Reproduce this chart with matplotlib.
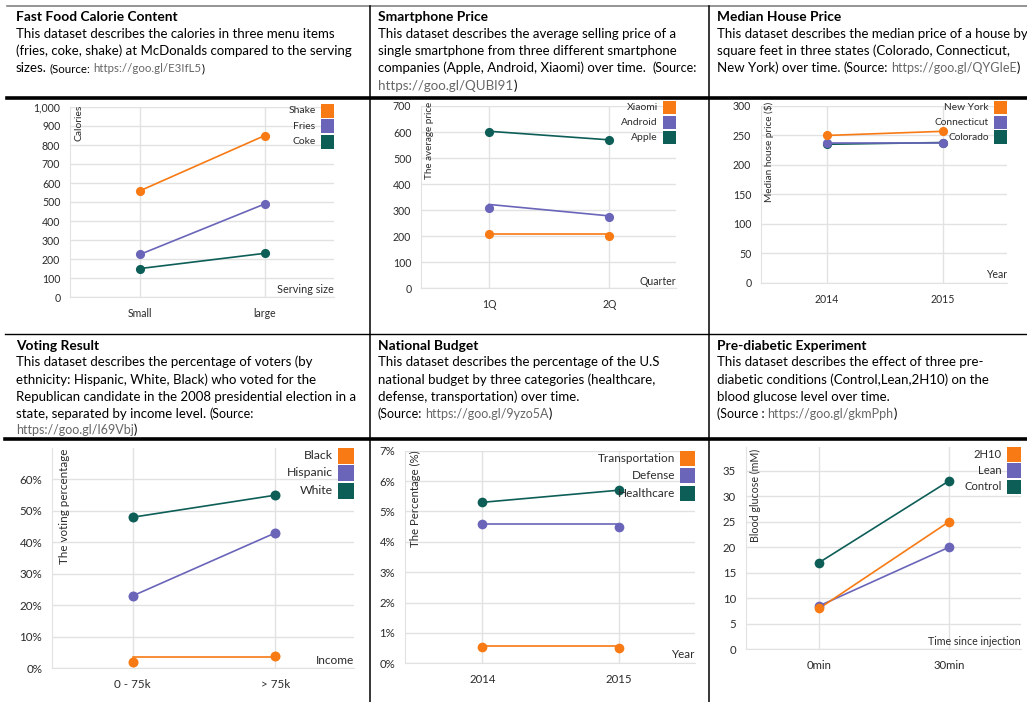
import matplotlib
matplotlib.use("Agg")
import matplotlib.pyplot as plt
from matplotlib.lines import Line2D
from matplotlib.patches import Rectangle
from matplotlib.ticker import FuncFormatter

plt.rcParams['font.family'] = ['Lato', 'DejaVu Sans']

ORANGE = "#F77A14"
PURPLE = "#6A65B9"
TEAL = "#0E5E58"
GRID = "#E2E2E2"
INK = "#2B2B2B"
URL = "#666666"

# ---- data -------------------------------------------------------------
food_sizes = ["Small", "large"]
shake_cal = [560, 850]
fries_cal = [225, 490]
coke_cal = [150, 230]

quarters = ["1Q", "2Q"]
xiaomi_price = [210, 200]
xiaomi_line = [210, 210]
android_price = [310, 275]
android_line = [322, 278]
apple_price = [600, 570]
apple_line = [603, 570]

house_years = ["2014", "2015"]
newyork_price = [250, 257]
connecticut_price = [238, 238]
colorado_price = [235, 238]

income = ["0 - 75k", "> 75k"]
black_vote = [2, 4]
black_line = [3.7, 3.7]
hispanic_vote = [23, 43]
white_vote = [48, 55]

budget_years = ["2014", "2015"]
transport_pct = [0.55, 0.5]
transport_line = [0.58, 0.58]
defense_pct = [4.6, 4.5]
defense_line = [4.6, 4.6]
health_pct = [5.3, 5.7]

inject_time = ["0min", "30min"]
h2h10_glucose = [8, 25]
lean_glucose = [8.5, 20]
control_glucose = [17, 33]

# ---- figure -----------------------------------------------------------
W, H = 1027, 702
fig = plt.figure(figsize=(W / 100, H / 100), dpi=100)
renderer = fig.canvas.get_renderer()


def fx(x):
    return x / W


def fy(y):
    return 1 - y / H


def hline(y, x0, x1, lw, color="black"):
    fig.add_artist(Line2D([fx(x0), fx(x1)], [fy(y), fy(y)], lw=lw, color=color))


def vline(x, y0, y1, lw, color="black"):
    fig.add_artist(Line2D([fx(x), fx(x)], [fy(y0), fy(y1)], lw=lw, color=color))


def text_run(x, y, parts):
    """Write pieces of text one after another on a shared baseline."""
    for s, size, color, weight, gap in parts:
        x += gap
        t = fig.text(fx(x), fy(y), s, fontsize=size, color=color,
                     fontweight=weight, va="baseline", ha="left")
        x += t.get_window_extent(renderer).width


TITLE = 9.9
BODY = 9.55
SMALL = 9.0


def title(s):
    return (s, TITLE, "black", "bold", 0)


def body(s, size=BODY, gap=0):
    return (s, size, "black", "normal", gap)


def small(s, size=SMALL, color="black", gap=0):
    return (s, size, color, "normal", gap)


def line_panel(box, cats, series, ylim, yticks, fmt, ylabel, xlabel, legend,
               tick_size, label_size, ms=6.6):
    x0, y0, x1, y1 = box
    ax = fig.add_axes([fx(x0), fy(y1), (x1 - x0) / W, (y1 - y0) / H])
    xs = list(range(len(cats)))
    for name, color, marks, line in series:
        ax.plot(xs, line, color=color, lw=1.2, zorder=3)
    for name, color, marks, line in series:
        ax.plot(xs, marks, "o", color=color, ms=ms, mew=0, zorder=4)
    ax.set_xlim(-0.565, 1.555)
    ax.set_ylim(*ylim)
    ax.set_xticks(xs, cats)
    ax.set_yticks(yticks)
    ax.yaxis.set_major_formatter(FuncFormatter(fmt))
    ax.grid(True, color=GRID, lw=1)
    ax.set_axisbelow(True)
    for s in ["top", "right"]:
        ax.spines[s].set_visible(False)
    for s in ["left", "bottom"]:
        ax.spines[s].set_color(GRID)
    ax.tick_params(length=0, labelsize=tick_size, colors=INK, pad=7)
    ax.tick_params(axis="x", pad=8)

    # y title sits inside the plot, rotated, hanging from the top
    ylx, yly, ylsize = ylabel[1], ylabel[2], ylabel[3]
    fig.text(fx(ylx), fy(yly), ylabel[0], rotation=90, ha="center", va="top",
             fontsize=ylsize, color=INK)
    # x title at the lower right corner
    fig.text(fx(x1), fy(xlabel[1]), xlabel[0], ha="right", va="center",
             fontsize=label_size, color=INK)

    # legend: labels with square swatches on the right edge
    top, size, step, fsize = legend
    for i, (name, color, marks, line) in enumerate(reversed(series)):
        ty = top + i * step
        fig.add_artist(Rectangle((fx(x1 - size), fy(ty + size)), size / W, size / H,
                                 color=color, lw=0))
        fig.text(fx(x1 - size - 5), fy(ty + size / 2), name, ha="right",
                 va="center", fontsize=fsize, color=INK)
    return ax


def plain(v, pos):
    return f"{v:,.0f}"


def pct(v, pos):
    return f"{v:.0f}%"


# ---- text cells -------------------------------------------------------
text_run(16, 21, [title("Fast Food Calorie Content")])
text_run(16, 38, [body("This dataset describes the calories in three menu items")])
text_run(16, 55, [body("(fries, coke, shake) at McDonalds compared to the serving")])
text_run(16, 72, [body("sizes."), small("(Source:", 8.3, gap=3),
                  small("https://goo.gl/E3IfL5", 8.3, URL, gap=3), small(")", 8.3)])

text_run(378, 21, [title("Smartphone Price")])
text_run(378, 38, [body("This dataset describes the average selling price of a")])
text_run(378, 55, [body("single smartphone from three different smartphone")])
text_run(378, 72, [body("companies (Apple, Android, Xiaomi) over time."),
                   small("(Source:", gap=7)])
text_run(378, 90, [small("https://goo.gl/QUBl91", 9.6, URL), body(")")])

text_run(717, 21, [title("Median House Price")])
text_run(717, 38, [body("This dataset describes the median price of a house by")])
text_run(717, 55, [body("square feet in three states (Colorado, Connecticut,")])
text_run(717, 72, [body("New York) over time."), small("(Source:", gap=3),
                   small("https://goo.gl/QYGIeE", color=URL, gap=3), small(")")])

text_run(16, 349.5, [title("Voting Result")])
text_run(16, 366.5, [body("This dataset describes the percentage of voters (by")])
text_run(16, 384, [body("ethnicity: Hispanic, White, Black) who voted for the")])
text_run(16, 401, [body("Republican candidate in the 2008 presidential election in a")])
text_run(16, 418, [body("state, separated by income level."), small("(Source:", gap=3)])
text_run(16, 434.5, [small("https://goo.gl/I69Vbj", color=URL), small(")")])

text_run(378, 349.5, [title("National Budget")])
text_run(378, 366.5, [body("This dataset describes the percentage of the U.S")])
text_run(378, 384, [body("national budget by three categories (healthcare,")])
text_run(378, 401, [body("defense, transportation) over time.")])
text_run(378, 418, [small("(Source:"), small("https://goo.gl/9yzo5A", color=URL, gap=3),
                    small(")")])

text_run(717, 349.5, [title("Pre-diabetic Experiment")])
text_run(717, 366.5, [body("This dataset describes the effect of three pre-")])
text_run(717, 384, [body("diabetic conditions (Control,Lean,2H10) on the")])
text_run(717, 401, [body("blood glucose level over time.")])
text_run(717, 418, [small("(Source :"), small("https://goo.gl/gkmPph", color=URL, gap=3),
                    small(")")])

# ---- charts -----------------------------------------------------------
line_panel((70, 107, 334, 297), food_sizes,
           [("Coke", TEAL, coke_cal, coke_cal),
            ("Fries", PURPLE, fries_cal, fries_cal),
            ("Shake", ORANGE, shake_cal, shake_cal)],
           (0, 1000), range(0, 1001, 100), plain,
           ("Calories", 79.5, 105, 7.4), ("Serving size", 289.5),
           (104, 13.5, 15.5, 7.5), 7.6, 7.8)

line_panel((421, 106, 676, 288.3), quarters,
           [("Apple", TEAL, apple_price, apple_line),
            ("Android", PURPLE, android_price, android_line),
            ("Xiaomi", ORANGE, xiaomi_price, xiaomi_line)],
           (0, 700), range(0, 701, 100), plain,
           ("The average price", 430, 101.5, 7.1), ("Quarter", 281.7),
           (101, 13.3, 15, 7.5), 7.6, 7.6)

line_panel((761, 106, 1007.3, 282.7), house_years,
           [("Colorado", TEAL, colorado_price, colorado_price),
            ("Connecticut", PURPLE, connecticut_price, connecticut_price),
            ("New York", ORANGE, newyork_price, newyork_price)],
           (0, 300), range(0, 301, 50), plain,
           ("Median house price ($)", 769.5, 101.5, 7.2), ("Year", 275),
           (101, 13.3, 14.7, 7.3), 7.6, 7.6)

line_panel((52, 448, 354.3, 668.3), income,
           [("White", TEAL, white_vote, white_vote),
            ("Hispanic", PURPLE, hispanic_vote, hispanic_vote),
            ("Black", ORANGE, black_vote, black_line)],
           (0, 70), range(0, 61, 10), pct,
           ("The voting percentage", 65, 448.5, 8.4), ("Income", 660),
           (447.5, 16, 17.5, 8.8), 8.4, 8.6, ms=7.2)

line_panel((405, 450.7, 695, 663.3), budget_years,
           [("Healthcare", TEAL, health_pct, health_pct),
            ("Defense", PURPLE, defense_pct, defense_line),
            ("Transportation", ORANGE, transport_pct, transport_line)],
           (0, 7), range(0, 8), pct,
           ("The Percentage (%)", 415, 450, 8.2), ("Year", 655),
           (450.7, 15, 17.5, 8.5), 8.2, 8.4, ms=7.0)

line_panel((745.7, 447.3, 1021, 649.3), inject_time,
           [("Control", TEAL, control_glucose, control_glucose),
            ("Lean", PURPLE, lean_glucose, lean_glucose),
            ("2H10", ORANGE, h2h10_glucose, h2h10_glucose)],
           (0, 39.6), range(0, 36, 5), plain,
           ("Blood glucose (mM)", 755, 448.5, 7.7), ("Time since injection", 641.7),
           (447.3, 14.3, 16.2, 8.1), 8.2, 7.7, ms=7.0)

# ---- table rules ------------------------------------------------------
hline(6, 7, W, 1.1, "#777777")
hline(98, 7, W, 2.6)
hline(334, 5, W, 1.0)
hline(438.5, 5, W, 2.6)
vline(370, 6, H, 1.1)
vline(709, 6, H, 1.1)

fig.savefig("out.png", dpi=100)
